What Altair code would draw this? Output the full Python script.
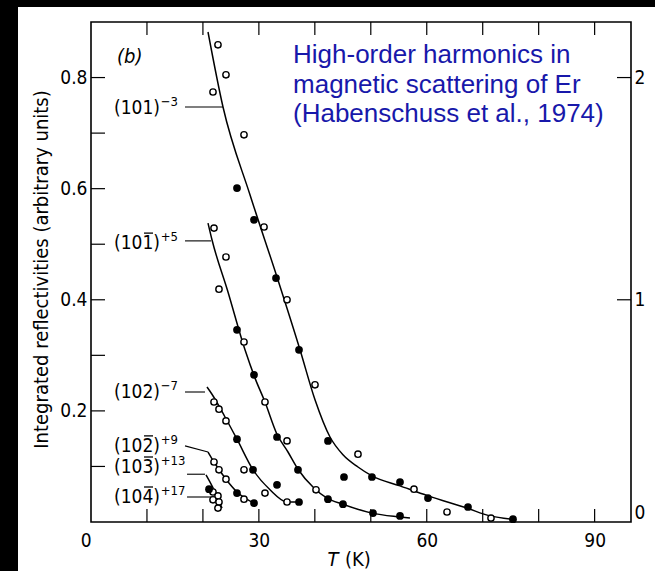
import altair as alt
import pandas as pd

# ---------------- measured integrated reflectivities ----------------
# T in K, I in arbitrary units; closed = 1 for filled circles, 0 for open circles
t_101 = [22.69, 24.12, 21.80, 27.34, 26.09, 29.13, 30.92, 33.06, 35.03, 37.17, 40.03,
         42.35, 45.21, 47.71, 50.21, 55.22, 57.72, 60.22, 63.62, 67.37, 71.48, 75.41]
i_101 = [0.859, 0.805, 0.774, 0.697, 0.601, 0.544, 0.531, 0.439, 0.400, 0.310, 0.247,
         0.146, 0.081, 0.122, 0.081, 0.072, 0.059, 0.043, 0.018, 0.027, 0.007, 0.005]
c_101 = [0, 0, 0, 0, 1, 1, 0, 1, 0, 1, 0, 1, 1, 0, 1, 1, 0, 1, 0, 1, 0, 1]

t_10m1 = [21.98, 24.12, 22.87, 26.09, 27.34, 29.13, 31.09, 33.24, 35.03, 36.99, 40.21,
          42.35, 45.03, 50.39, 55.22]
i_10m1 = [0.529, 0.477, 0.419, 0.346, 0.324, 0.265, 0.216, 0.153, 0.146, 0.094, 0.058,
          0.041, 0.032, 0.016, 0.011]
c_10m1 = [0, 0, 0, 1, 0, 1, 0, 1, 0, 1, 0, 1, 1, 1, 1]

t_102 = [21.98, 22.87, 24.12, 26.09, 27.34, 28.95, 31.09, 33.24, 35.03, 37.17]
i_102 = [0.216, 0.203, 0.182, 0.149, 0.094, 0.094, 0.052, 0.067, 0.036, 0.036]
c_102 = [0, 0, 0, 1, 0, 1, 0, 1, 0, 1]

t_10m2 = [21.98, 22.87, 24.12, 26.09, 27.34, 29.13]
i_10m2 = [0.108, 0.094, 0.077, 0.052, 0.041, 0.034]
c_10m2 = [0, 0, 0, 1, 0, 1]

t_10m3 = [21.09, 21.80, 22.69]
i_10m3 = [0.059, 0.054, 0.047]
c_10m3 = [1, 0, 0]

t_10m4 = [21.80, 22.87, 22.69]
i_10m4 = [0.040, 0.036, 0.025]
c_10m4 = [0, 0, 0]

# ---------------- fitted curves ----------------
fit_t_101 = [20.91, 23.59, 28.41, 33.24, 37.35, 40.03, 42.71, 45.03, 47.71, 50.21,
             55.22, 60.22, 67.19, 71.30, 75.23]
fit_i_101 = [0.882, 0.747, 0.589, 0.441, 0.310, 0.220, 0.153, 0.121, 0.099, 0.083,
             0.065, 0.047, 0.025, 0.011, 0.005]
fit_t_10m1 = [20.91, 21.62, 24.48, 27.52, 29.31, 31.09, 33.24, 35.20, 36.99, 39.67,
              42.17, 45.03, 50.21, 55.22, 57.00]
fit_i_10m1 = [0.538, 0.508, 0.414, 0.310, 0.259, 0.216, 0.158, 0.126, 0.095, 0.063,
              0.043, 0.032, 0.016, 0.009, 0.007]
fit_t_102 = [20.73, 21.62, 23.95, 26.09, 28.95, 31.99, 35.03, 37.35]
fit_i_102 = [0.243, 0.230, 0.189, 0.149, 0.094, 0.058, 0.036, 0.036]
fit_t_10m2 = [20.91, 21.98, 24.12, 26.09, 29.13]
fit_i_10m2 = [0.126, 0.108, 0.077, 0.054, 0.034]
fit_t_10m3 = [20.55, 21.98, 23.41]
fit_i_10m3 = [0.085, 0.058, 0.025]

# ---------------- reflection labels and their leader lines ----------------
label_main = ["(101)", "(101)", "(102)", "(102)", "(103)", "(104)"]
label_bar = [False, True, False, True, True, True]   # negative index: bar over last digit
label_sup = ["\u22123", "+5", "\u22127", "+9", "+13", "+17"]
label_i = [0.745, 0.502, 0.234, 0.137, 0.099, 0.045]
lead_t0 = [16.80, 16.80, 16.80, 16.80, 17.16, 17.16]
lead_i0 = [0.747, 0.506, 0.234, 0.137, 0.086, 0.045]
lead_t1 = [23.59, 21.44, 20.37, 20.91, 20.37, 21.62]
lead_i1 = [0.747, 0.506, 0.234, 0.126, 0.086, 0.045]

x_tick_values = [10, 20, 30, 40, 50, 60, 70, 80, 90]
y_tick_values = [0.1, 0.2, 0.3, 0.4, 0.5, 0.6, 0.7, 0.8]
right_tick_values = [1, 2]

title_lines = ["High-order harmonics in", "magnetic scattering of Er",
               "(Habenschuss et al., 1974)"]
title_i = [0.826, 0.772, 0.720]

# ---------------- assemble tables ----------------
names = ["101", "10-1", "102", "10-2", "10-3", "10-4"]
pt_sets = [(t_101, i_101, c_101), (t_10m1, i_10m1, c_10m1), (t_102, i_102, c_102),
           (t_10m2, i_10m2, c_10m2), (t_10m3, i_10m3, c_10m3), (t_10m4, i_10m4, c_10m4)]
rows = []
for n, (ts, is_, cs) in zip(names, pt_sets):
    for t, i, c in zip(ts, is_, cs):
        rows.append({"T": t, "I": i, "series": n, "closed": c})
points = pd.DataFrame(rows)
open_pts = points[points.closed == 0]
closed_pts = points[points.closed == 1]

fit_sets = [(fit_t_101, fit_i_101), (fit_t_10m1, fit_i_10m1), (fit_t_102, fit_i_102),
            (fit_t_10m2, fit_i_10m2), (fit_t_10m3, fit_i_10m3)]
rows = []
for n, (ts, is_) in zip(names, fit_sets):
    for k, (t, i) in enumerate(zip(ts, is_)):
        rows.append({"T": t, "I": i, "series": n, "k": k})
fits = pd.DataFrame(rows)

rows = []
for n, a, b, c, d in zip(names, lead_t0, lead_i0, lead_t1, lead_i1):
    rows.append({"T": a, "I": b, "series": n, "k": 0})
    rows.append({"T": c, "I": d, "series": n, "k": 1})
leaders = pd.DataFrame(rows)

LABEL_END_T = 12.33      # right edge of "(hkl)"
labels = pd.DataFrame({"main": label_main, "sup": label_sup, "I": label_i,
                       "bar": label_bar,
                       "T": [LABEL_END_T] * 6, "Ts": [LABEL_END_T + 0.12] * 6,
                       "Tb": [LABEL_END_T - 2.05] * 6})
bars = labels[labels.bar]
titles = pd.DataFrame({"text": title_lines, "I": title_i, "T": [36.1] * 3})

# ---------------- layout ----------------
W, H = 540, 500
T_MAX, I_MAX = 96.5, 0.9
FONT = "DejaVu Sans Condensed, DejaVu Sans"

xs = alt.Scale(domain=[0, T_MAX], nice=False, zero=False)
ys = alt.Scale(domain=[0, I_MAX], nice=False)

x_axis = alt.Axis(values=[0, 30, 60, 90], title=None, ticks=False, tickSize=0,
                  domain=False, grid=False, labelFont=FONT, labelFontSize=19,
                  labelColor="black", labelPadding=9,
                  labelAlign=alt.ExprRef("datum.value == 0 ? 'right' : 'center'"),
                  zindex=1)
y_axis = alt.Axis(values=[0.2, 0.4, 0.6, 0.8], format=".1f",
                  title="Integrated reflectivities (arbitrary units)",
                  titleFont=FONT, titleFontSize=20, titleFontWeight="normal",
                  titleColor="black", titleX=-49.5, titleY=247, titleAngle=270,
                  titleAlign="center", titleBaseline="middle",
                  ticks=False, tickSize=0, domain=False, grid=False,
                  labelFont=FONT, labelFontSize=19, labelColor="black",
                  labelPadding=4, zindex=1)


def X(field="T"):
    return alt.X(f"{field}:Q", scale=xs, axis=x_axis)


def Y():
    return alt.Y("I:Q", scale=ys, axis=y_axis)


one = pd.DataFrame({"k": [0]})

# black border strips around the white page
band_left = alt.Chart(one).mark_rect(color="black").encode(
    x=alt.value(-91), x2=alt.value(-73), y=alt.value(-22), y2=alt.value(H + 49))
band_top = alt.Chart(one).mark_rect(color="black").encode(
    x=alt.value(-91), x2=alt.value(W + 24), y=alt.value(-22), y2=alt.value(-15))

# inward-pointing frame ticks
xt = pd.DataFrame({"T": x_tick_values})
yt = pd.DataFrame({"I": y_tick_values})
tick_bottom = alt.Chart(xt).mark_rule(color="black", strokeWidth=1.2).encode(
    x=X(), y=alt.value(H), y2=alt.value(H - 13))
tick_top = alt.Chart(xt).mark_rule(color="black", strokeWidth=1.2).encode(
    x=X(), y=alt.value(0), y2=alt.value(13))
tick_left = alt.Chart(yt).mark_rule(color="black", strokeWidth=1.2).encode(
    y=Y(), x=alt.value(0), x2=alt.value(14))

fit_lines = alt.Chart(fits).mark_line(color="black", strokeWidth=1.5,
                                      interpolate="monotone").encode(
    x=X(), y=Y(), detail="series:N", order="k:Q")
leader_lines = alt.Chart(leaders).mark_line(color="black", strokeWidth=1.1).encode(
    x=X(), y=Y(), detail="series:N", order="k:Q")

open_marks = alt.Chart(open_pts).mark_point(
    shape="circle", size=40, fill="white", fillOpacity=1, stroke="black",
    strokeWidth=1.4, opacity=1).encode(x=X(), y=Y())
closed_marks = alt.Chart(closed_pts).mark_circle(
    size=60, color="black", opacity=1).encode(x=X(), y=Y())

label_text = alt.Chart(labels).mark_text(
    align="right", baseline="middle", font=FONT, fontSize=19, color="black").encode(
    x=X("T"), y=Y(), text="main:N")
# overbar of a negative Miller index, drawn as a short horizontal tick
label_bar_mark = alt.Chart(bars).mark_tick(
    orient="horizontal", size=9, thickness=1.3, color="black", opacity=1,
    yOffset=-10).encode(x=X("Tb"), y=Y())
label_sup_text = alt.Chart(labels).mark_text(
    align="left", baseline="middle", font=FONT, fontSize=13, color="black",
    dy=-6).encode(x=X("Ts"), y=Y(), text="sup:N")

panel_tag = alt.Chart(pd.DataFrame({"T": [4.65], "I": [0.837], "s": ["(b)"]})).mark_text(
    align="left", baseline="middle", font=FONT, fontSize=20, fontStyle="italic",
    color="black").encode(x=X(), y=Y(), text="s:N")

title_text = alt.Chart(titles).mark_text(
    align="left", baseline="alphabetic", font="Liberation Sans, Arial",
    fontSize=26, color="#1818aa").encode(x=X(), y=Y(), text="text:N")

xlab = pd.DataFrame({"T": [43.25, 47.7], "s": ["T", "(K)"], "st": ["italic", "normal"]})
xlab_t = alt.Chart(xlab[xlab.st == "italic"]).mark_text(
    align="center", baseline="middle", font=FONT, fontSize=20, fontStyle="italic",
    color="black").encode(x=X(), y=alt.value(H + 38), text="s:N")
xlab_k = alt.Chart(xlab[xlab.st == "normal"]).mark_text(
    align="center", baseline="middle", font=FONT, fontSize=20,
    color="black").encode(x=X(), y=alt.value(H + 38), text="s:N")

left = alt.layer(band_left, band_top, tick_bottom, tick_top, tick_left,
                 fit_lines, leader_lines, open_marks, closed_marks,
                 label_text, label_bar_mark, label_sup_text, panel_tag, title_text,
                 xlab_t, xlab_k)

# right-hand scale (same data, 2.5x the left-hand units)
r_axis = alt.Axis(orient="right", values=[0, 1, 2], format="d", title=None,
                  ticks=False, tickSize=0, domain=False, grid=False,
                  labelFont=FONT, labelFontSize=19, labelColor="black",
                  labelPadding=3,
                  labelBaseline=alt.ExprRef("datum.value == 0 ? 'bottom' : 'middle'"),
                  zindex=1)
right = alt.Chart(pd.DataFrame({"R": right_tick_values})).mark_rule(
    color="black", strokeWidth=1.2).encode(
    y=alt.Y("R:Q", scale=alt.Scale(domain=[0, I_MAX * 2.5], nice=False), axis=r_axis),
    x=alt.value(W - 14), x2=alt.value(W))

chart = alt.layer(left, right).resolve_scale(y="independent").properties(
    width=W, height=H,
    autosize=alt.AutoSizeParams(type="none"),
    padding={"left": 91, "top": 22, "right": 24, "bottom": 49},
    background="white",
).configure_view(stroke="black", strokeWidth=1.6, fill="white")

chart.save("out.html", embed_options={"renderer": "svg", "actions": False})
